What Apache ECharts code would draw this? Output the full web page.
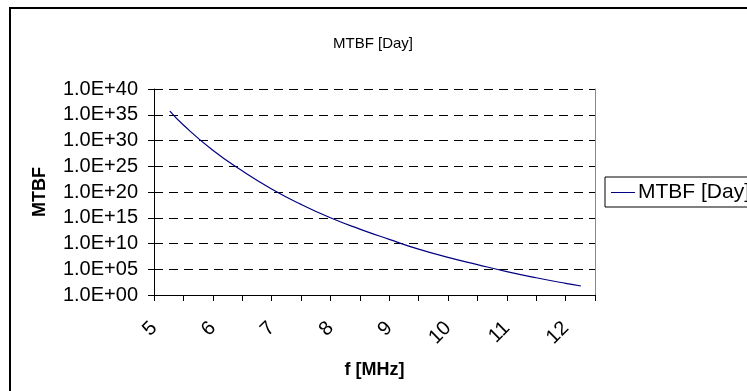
<!DOCTYPE html>
<html>
<head>
<meta charset="utf-8">
<script src="https://cdn.jsdelivr.net/npm/echarts@6/dist/echarts.min.js"></script>
<style>
html,body{margin:0;padding:0;background:#fff;}
#chart{width:747px;height:391px;}
</style>
</head>
<body>
<div id="chart"></div>
<script>
// Frequency (MHz)
const freqMHz = [5.27, 5.5, 6, 6.5, 7, 7.5, 8, 8.5, 9, 9.5, 10, 10.5, 11, 11.5, 12, 12.26];
// MTBF in days
const mtbfDays = [5.0e35, 1.0e33, 1.3e28, 1.3e24, 4.0e20, 4.0e17, 1.0e15, 6.3e12, 6.3e10, 7.9e8, 2.0e7, 7.9e5, 3.5e4, 2.2e3, 1.8e2, 56];
const seriesName = 'MTBF [Day]';
const titleText = 'MTBF [Day]';
const xAxisTitle = 'f [MHz]';
const yAxisTitle = 'MTBF';

const FONT = '"Liberation Sans", Arial, sans-serif';
const chart = echarts.init(document.getElementById('chart'), null, {renderer: 'canvas'});

function yLabel(v) {
  const e = Math.round(Math.log10(v));
  return '1.0E+' + String(e).padStart(2, '0');
}

chart.setOption({
  animation: false,
  backgroundColor: '#fff',
  title: {
    text: titleText,
    left: 328, top: 31,
    textStyle: {fontFamily: FONT, fontSize: 15, fontWeight: 'normal', color: '#000'}
  },
  graphic: [{
    type: 'rect', silent: true,
    shape: {x: 10, y: 8, width: 800, height: 420},
    style: {fill: 'none', stroke: '#000', lineWidth: 2}
  }],
  legend: {
    left: 605, top: 177,
    orient: 'vertical',
    borderColor: '#000', borderWidth: 1,
    padding: [5, 4, 4, 6],
    itemWidth: 24, itemHeight: 1, itemGap: 4,
    icon: 'rect',
    textStyle: {fontFamily: FONT, fontSize: 21, color: '#000', padding: [0, 0, 0, -2]},
    data: [seriesName]
  },
  grid: {left: 154, right: 152, top: 89, bottom: 96, containLabel: false},
  xAxis: {
    type: 'value', min: 5, max: 12.5, interval: 0.5,
    name: xAxisTitle, nameLocation: 'middle', nameGap: 66,
    nameTextStyle: {fontFamily: FONT, fontSize: 18, fontWeight: 'bold', color: '#000'},
    axisLine: {lineStyle: {color: '#000', width: 1}},
    axisTick: {length: 6, lineStyle: {color: '#000'}},
    splitLine: {show: false},
    axisLabel: {
      rotate: 45, margin: 30,
      fontFamily: FONT, fontSize: 20, color: '#000',
      formatter: v => Number.isInteger(v) ? String(v) : ''
    }
  },
  yAxis: [{
    type: 'log', logBase: 10, min: 1, max: 1e40, interval: 5,
    name: yAxisTitle, nameLocation: 'middle', nameGap: 105, nameRotate: 90,
    nameTextStyle: {fontFamily: FONT, fontSize: 18, fontWeight: 'bold', color: '#000'},
    axisLine: {show: true, lineStyle: {color: '#000', width: 1}},
    axisTick: {show: true, length: 6, lineStyle: {color: '#000'}},
    splitLine: {show: true, lineStyle: {color: '#000', width: 1, type: [9, 6]}},
    axisLabel: {margin: 16, fontFamily: FONT, fontSize: 20, color: '#000', formatter: yLabel}
  }, {
    type: 'value', position: 'right', min: 0, max: 1,
    axisLine: {show: true, lineStyle: {color: '#888', width: 1}},
    axisTick: {show: false}, axisLabel: {show: false}, splitLine: {show: false}
  }],
  series: [{
    name: seriesName,
    type: 'line',
    smooth: true,
    showSymbol: false,
    lineStyle: {color: '#000080', width: 1.2},
    itemStyle: {color: '#000080'},
    data: freqMHz.map((f, i) => [f, mtbfDays[i]])
  }]
});
</script>
</body>
</html>
